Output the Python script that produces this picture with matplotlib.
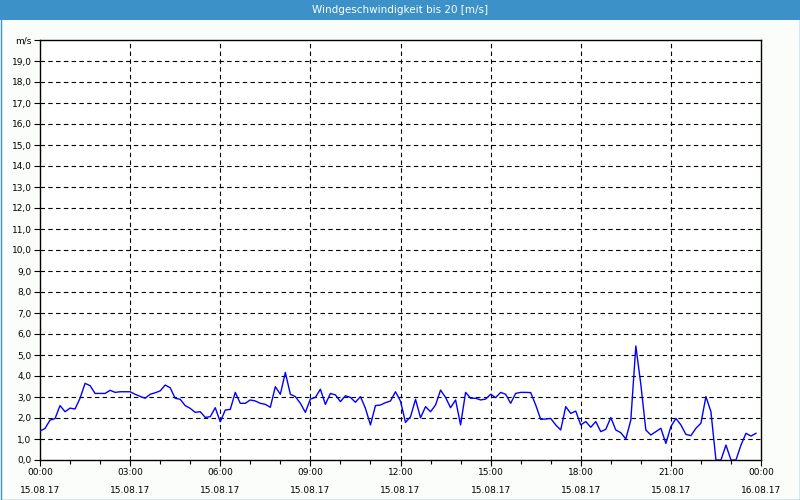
import matplotlib
matplotlib.use("Agg")
import matplotlib.pyplot as plt
from matplotlib.patches import Rectangle
import numpy as np

title = "Windgeschwindigkeit bis 20 [m/s]"
unit_label = "m/s"

# 10-minute samples starting 15.08.17 00:00
interval_min = 10
speeds = [
    1.38, 1.50, 1.90, 1.97, 2.59, 2.30, 2.47, 2.43, 2.94, 3.65,
    3.54, 3.17, 3.17, 3.17, 3.32, 3.22, 3.25, 3.25, 3.25, 3.13,
    3.03, 2.94, 3.13, 3.20, 3.29, 3.57, 3.44, 2.94, 2.89, 2.59,
    2.46, 2.27, 2.30, 2.03, 2.06, 2.49, 1.82, 2.38, 2.41, 3.22,
    2.70, 2.70, 2.86, 2.81, 2.70, 2.65, 2.51, 3.49, 3.13, 4.17,
    3.13, 3.02, 2.70, 2.27, 2.90, 2.98, 3.37, 2.65, 3.17, 3.10,
    2.78, 3.06, 2.98, 2.75, 3.02, 2.46, 1.67, 2.59, 2.62, 2.73,
    2.81, 3.25, 2.80, 1.79, 2.06, 2.89, 2.01, 2.54, 2.30, 2.62,
    3.33, 2.98, 2.49, 2.86, 1.67, 3.22, 2.94, 2.94, 2.86, 2.90,
    3.13, 2.97, 3.22, 3.13, 2.70, 3.17, 3.22, 3.22, 3.21, 2.62,
    1.94, 1.95, 1.98, 1.67, 1.43, 2.54, 2.22, 2.33, 1.67, 1.83,
    1.56, 1.83, 1.35, 1.46, 2.02, 1.43, 1.30, 1.00, 1.90, 5.43,
    3.60, 1.43, 1.19, 1.35, 1.51, 0.79, 1.59, 1.98, 1.67, 1.22,
    1.16, 1.51, 1.75, 3.02, 2.30, 0.0, 0.0, 0.71, 0.0, 0.0,
    0.71, 1.27, 1.14, 1.27,
]

x_tick_times = ["00:00", "03:00", "06:00", "09:00", "12:00", "15:00", "18:00", "21:00", "00:00"]
x_tick_dates = ["15.08.17"] * 8 + ["16.08.17"]
y_tick_labels = ["0,0", "1,0", "2,0", "3,0", "4,0", "5,0", "6,0", "7,0", "8,0", "9,0",
                 "10,0", "11,0", "12,0", "13,0", "14,0", "15,0", "16,0", "17,0", "18,0", "19,0"]

W, H = 800, 500
fig = plt.figure(figsize=(W / 100, H / 100), dpi=100)
fig.patch.set_facecolor("#fbfdfb")

# title bar
bar_color = "#3c91c8"
fig.add_artist(Rectangle((0, 1 - 20 / H), 1, 20 / H, transform=fig.transFigure,
                         facecolor=bar_color, edgecolor="none", zorder=0))
fig.add_artist(Rectangle((0.5 / W, 0.5 / H), 1 - 1 / W, 1 - 1 / H, transform=fig.transFigure,
                         facecolor="none", edgecolor=bar_color, linewidth=1.0, zorder=5))
fig.text(0.5, 1 - 10 / H, title, color="white", ha="center", va="center",
         fontsize=7.5, family="DejaVu Sans")

ax = fig.add_axes([40 / W, 40 / H, 721 / W, 420 / H])
ax.set_facecolor("white")

hours = np.arange(len(speeds)) * interval_min / 60.0
ax.plot(hours, speeds, color="#0000ff", linewidth=1.0, zorder=3)

ax.set_xlim(0, 24)
ax.set_ylim(0, 20)

major_x = np.arange(0, 25, 3)
ax.set_xticks(major_x)
ax.set_xticklabels([f"{t}\n\n{d}" for t, d in zip(x_tick_times, x_tick_dates)],
                   fontsize=6.5, linespacing=0.95)
ax.set_xticks(np.arange(0, 25, 1), minor=True)

ax.set_yticks(np.arange(0, 21, 1))
ax.set_yticklabels(y_tick_labels + [unit_label], fontsize=6.5)

ax.tick_params(axis="both", which="major", direction="out", length=4, width=0.8, color="black",
               labelcolor="black", pad=2)
ax.tick_params(axis="x", which="minor", direction="out", length=3, width=0.8)
ax.tick_params(axis="x", which="major", pad=2)

for v in range(1, 20):
    ax.axhline(v, color="black", linestyle=(0, (4, 3)), linewidth=0.8, zorder=1)
for h in major_x[1:-1]:
    ax.axvline(h, color="black", linestyle=(0, (4, 3)), linewidth=0.8, zorder=1)

for s in ax.spines.values():
    s.set_color("black")
    s.set_linewidth(1.0)

fig.savefig("out.png", dpi=100, facecolor=fig.get_facecolor())
